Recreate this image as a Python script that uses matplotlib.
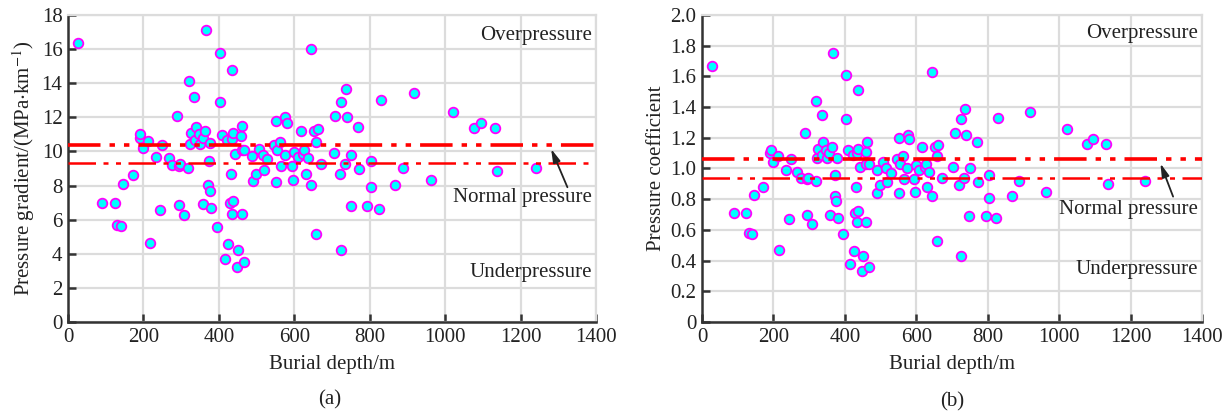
import numpy as np
import matplotlib.pyplot as plt

plt.rcParams['font.family'] = ['Liberation Serif', 'DejaVu Serif']
plt.rcParams['mathtext.fontset'] = 'stix'

# burial depth (m), pressure gradient (MPa/km), pressure coefficient
depth = [27, 91, 124, 131, 141, 145, 172, 190, 192, 198, 212, 217, 234, 245, 248,
         267, 276, 289, 294, 295, 297, 308, 319, 320, 323, 325, 335, 337, 339, 347,
         350, 357, 359, 363, 366, 372, 373, 376, 377, 380, 396, 404, 404, 408, 415,
         422, 425, 429, 431, 435, 435, 436, 438, 438, 443, 447, 452, 458, 460, 460,
         461, 467, 467, 489, 490, 499, 507, 516, 519, 528, 546, 551, 552, 555, 562,
         566, 574, 576, 581, 594, 597, 600, 609, 617, 624, 627, 630, 637, 643, 644,
         653, 657, 658, 662, 671, 704, 709, 720, 724, 725, 735, 737, 740, 749, 750,
         769, 772, 794, 803, 804, 824, 830, 867, 888, 918, 963, 1021, 1077, 1095,
         1132, 1137, 1241]
gradient = [16.35, 6.95, 7.0, 5.7, 5.6, 8.1, 8.6, 10.8, 11.0, 10.2, 10.6, 4.65, 9.7,
            6.55, 10.35, 9.6, 9.2, 12.05, 9.15, 6.85, 9.25, 6.25, 9.05, 14.15, 10.45,
            11.1, 13.2, 10.7, 11.45, 11.0, 10.45, 10.8, 6.9, 11.2, 17.15, 8.05, 9.45,
            7.7, 10.5, 6.7, 5.55, 15.8, 12.9, 10.95, 3.7, 10.7, 4.55, 7.0, 8.65, 10.75,
            6.35, 14.8, 11.1, 7.1, 9.85, 3.2, 4.25, 10.9, 10.1, 6.35, 11.5, 10.1, 3.5,
            9.75, 8.25, 8.7, 10.15, 9.8, 8.9, 9.55, 10.4, 11.8, 8.2, 10.1, 10.55, 9.15,
            9.8, 12.0, 11.65, 9.15, 8.3, 9.95, 9.7, 11.2, 9.85, 10.1, 8.65, 9.6, 8.05,
            16.0, 11.2, 5.15, 10.55, 11.3, 9.25, 9.9, 12.1, 8.7, 12.9, 4.2, 9.25, 13.65,
            12.0, 6.8, 9.8, 11.45, 8.95, 6.8, 9.45, 7.9, 6.65, 13.0, 8.05, 9.0, 13.4,
            8.35, 12.3, 11.35, 11.65, 11.35, 8.85, 9.0]
coefficient = [1.67, 0.71, 0.71, 0.58, 0.57, 0.83, 0.88, 1.10, 1.12, 1.04, 1.08, 0.47,
               0.99, 0.67, 1.06, 0.98, 0.94, 1.23, 0.93, 0.70, 0.94, 0.64, 0.92, 1.44,
               1.07, 1.13, 1.35, 1.09, 1.17, 1.12, 1.07, 1.10, 0.70, 1.14, 1.75, 0.82,
               0.96, 0.79, 1.07, 0.68, 0.57, 1.61, 1.32, 1.12, 0.38, 1.09, 0.46, 0.71,
               0.88, 1.10, 0.65, 1.51, 1.13, 0.72, 1.01, 0.33, 0.43, 1.11, 1.03, 0.65,
               1.17, 1.03, 0.36, 0.99, 0.84, 0.89, 1.04, 1.00, 0.91, 0.97, 1.06, 1.20,
               0.84, 1.03, 1.08, 0.93, 1.00, 1.22, 1.19, 0.93, 0.85, 1.02, 0.99, 1.14,
               1.01, 1.03, 0.88, 0.98, 0.82, 1.63, 1.14, 0.53, 1.08, 1.15, 0.94, 1.01,
               1.23, 0.89, 1.32, 0.43, 0.94, 1.39, 1.22, 0.69, 1.00, 1.17, 0.91, 0.69,
               0.96, 0.81, 0.68, 1.33, 0.82, 0.92, 1.37, 0.85, 1.26, 1.16, 1.19, 1.16,
               0.90, 0.92]

grad_lines = [10.4, 9.35]
coef_lines = [1.06, 0.94]

fig = plt.figure(figsize=(12.32, 4.18), dpi=100)
ax_a = fig.add_axes([0.0552, 0.2297, 0.4286, 0.7344])
ax_b = fig.add_axes([0.5698, 0.2297, 0.4058, 0.7344])

grid_c = '#dcdcdc'
dark = '#333333'
fs = 15


def style(ax, ymax, ystep, ylabel, lines, txt_y, arrow_xy, arrow_txt):
    ax.set_xlim(0, 1400)
    ax.set_ylim(0, ymax)
    ax.set_xticks(np.arange(0, 1401, 200))
    ax.set_yticks(np.arange(0, ymax + ystep / 2, ystep))
    ax.grid(True, color=grid_c, linewidth=1.6, zorder=0)
    ax.set_axisbelow(True)
    for s in ['top', 'right']:
        ax.spines[s].set_color(grid_c)
        ax.spines[s].set_linewidth(1.6)
    for s in ['left', 'bottom']:
        ax.spines[s].set_color(dark)
        ax.spines[s].set_linewidth(1.8)
    ax.tick_params(direction='in', length=6, width=1.8, color=dark,
                   labelsize=fs, labelcolor='#222222', pad=4)
    ax.set_xlabel('Burial depth/m', fontsize=fs, color='#222222', labelpad=6)
    ax.set_ylabel(ylabel, fontsize=fs, color='#222222', labelpad=3)
    ax.axhline(lines[0], color='red', linewidth=2.6, dashes=(9, 2.5, 1.5, 2.5, 1.5, 2.5), zorder=4)
    ax.axhline(lines[1], color='red', linewidth=1.8, dashes=(11, 3, 2, 3, 2, 3), zorder=4)
    ax.text(1390, txt_y[0], 'Overpressure', ha='right', va='center', fontsize=fs, color='#222222')
    ax.text(1390, txt_y[1], 'Normal pressure', ha='right', va='center', fontsize=fs, color='#222222')
    ax.text(1390, txt_y[2], 'Underpressure', ha='right', va='center', fontsize=fs, color='#222222')
    ax.annotate('', xy=arrow_xy, xytext=arrow_txt,
                arrowprops=dict(arrowstyle='-|>,head_length=0.8,head_width=0.22',
                                color='#222222', lw=1.3), zorder=5)


ax_a.scatter(depth, gradient, s=48, facecolor='#00ffff', edgecolor='#ff00ff',
             linewidth=1.3, zorder=3)
style(ax_a, 18, 2, r'Pressure gradient/(MPa$\cdot$km$^{-1}$)', grad_lines,
      [16.8, 7.3, 2.9], (1278, 10.3), (1327, 7.75))

ax_b.scatter(depth, coefficient, s=48, facecolor='#00ffff', edgecolor='#ff00ff',
             linewidth=1.3, zorder=3)
style(ax_b, 2.0, 0.2, 'Pressure coefficient', coef_lines,
      [1.88, 0.73, 0.34], (1281, 1.05), (1322, 0.8))
ax_b.set_yticklabels(['0'] + ['%.1f' % v for v in np.arange(0.2, 2.01, 0.2)])

fig.text(0.268, 0.043, '(a)', ha='center', va='center', fontsize=fs, color='#222222')
fig.text(0.773, 0.038, '(b)', ha='center', va='center', fontsize=fs, color='#222222')

fig.savefig('out.png', dpi=100)
